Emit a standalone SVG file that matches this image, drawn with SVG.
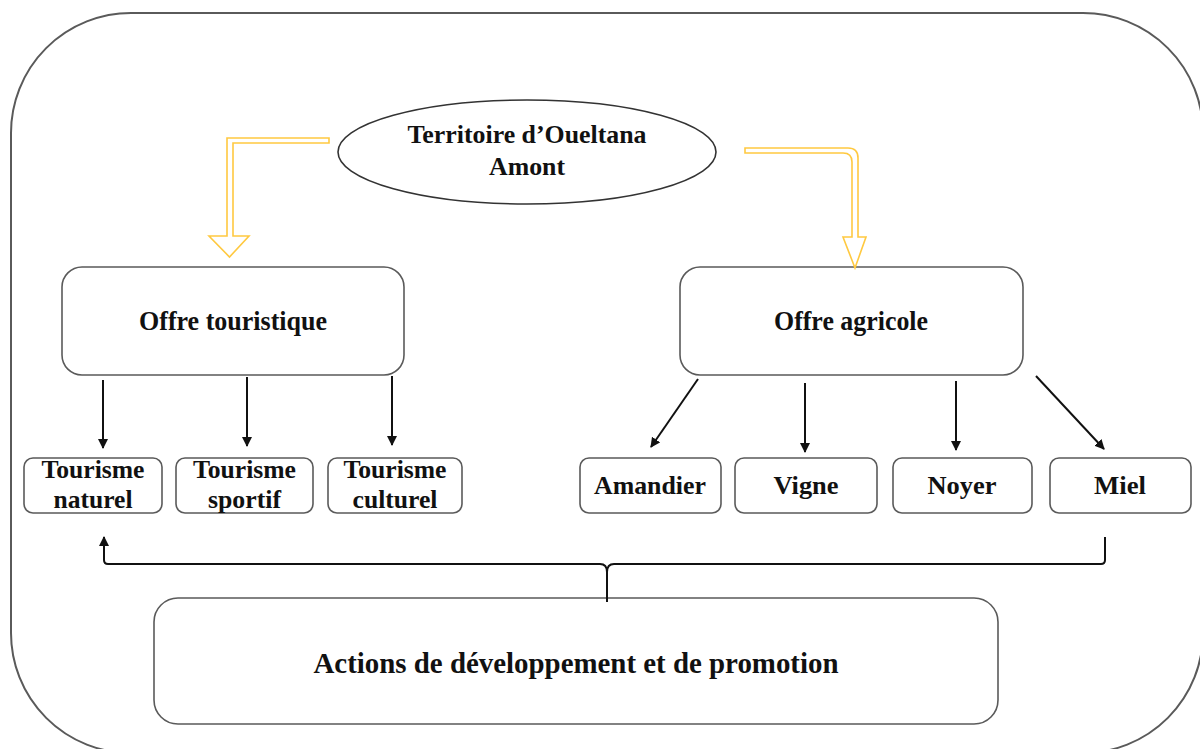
<svg xmlns="http://www.w3.org/2000/svg" width="1200" height="749" viewBox="0 0 1200 749">
<defs>
<style>
.frame{fill:none;stroke:#5a5a5a;stroke-width:2}
.box{fill:#fff;stroke:#5a5a5a;stroke-width:1.6}
.t{font-family:"Liberation Serif","Times New Roman",serif;font-weight:bold;fill:#111;text-anchor:middle}
.ln{fill:none;stroke:#111;stroke-width:2}
.ya{fill:#fff;stroke:#FFC940;stroke-width:1.6;stroke-linejoin:miter}
</style>
<marker id="ah" viewBox="0 0 10 10" refX="9" refY="5" markerWidth="5" markerHeight="5" orient="auto" markerUnits="strokeWidth">
<path d="M0,0 L10,5 L0,10 Z" fill="#111"/>
</marker>
</defs>
<rect width="1200" height="749" fill="#fff"/>
<rect class="frame" x="11" y="13" width="1192" height="740" rx="120" ry="120"/>

<g id="territoire">
<ellipse cx="527" cy="152" rx="189" ry="52" fill="#fff" stroke="#333" stroke-width="1.6"/>
<text class="t" x="527" y="143" font-size="26" textLength="239" lengthAdjust="spacingAndGlyphs">Territoire d’Oueltana</text>
<text class="t" x="527" y="175" font-size="26" textLength="76" lengthAdjust="spacingAndGlyphs">Amont</text>
</g>

<g id="offre-touristique">
<rect class="box" x="62" y="267" width="342" height="108" rx="20"/>
<text class="t" x="233" y="330" font-size="27" textLength="188" lengthAdjust="spacingAndGlyphs">Offre touristique</text>
</g>
<g id="offre-agricole">
<rect class="box" x="680" y="267" width="343" height="108" rx="20"/>
<text class="t" x="851" y="330" font-size="27" textLength="154" lengthAdjust="spacingAndGlyphs">Offre agricole</text>
</g>

<g id="tourisme-naturel">
<rect class="box" x="24" y="458" width="138" height="55" rx="9"/>
<text class="t" x="93" y="478" font-size="26" textLength="103" lengthAdjust="spacingAndGlyphs">Tourisme</text>
<text class="t" x="93" y="508" font-size="26" textLength="79" lengthAdjust="spacingAndGlyphs">naturel</text>
</g>
<g id="tourisme-sportif">
<rect class="box" x="176" y="458" width="137" height="55" rx="9"/>
<text class="t" x="244.5" y="478" font-size="26" textLength="103" lengthAdjust="spacingAndGlyphs">Tourisme</text>
<text class="t" x="244.5" y="508" font-size="26" textLength="73" lengthAdjust="spacingAndGlyphs">sportif</text>
</g>
<g id="tourisme-culturel">
<rect class="box" x="328" y="458" width="134" height="55" rx="9"/>
<text class="t" x="395" y="478" font-size="26" textLength="103" lengthAdjust="spacingAndGlyphs">Tourisme</text>
<text class="t" x="395" y="508" font-size="26" textLength="85" lengthAdjust="spacingAndGlyphs">culturel</text>
</g>

<g id="amandier">
<rect class="box" x="580" y="458" width="141" height="55" rx="9"/>
<text class="t" x="650" y="494" font-size="26" textLength="112" lengthAdjust="spacingAndGlyphs">Amandier</text>
</g>
<g id="vigne">
<rect class="box" x="735" y="458" width="142" height="55" rx="9"/>
<text class="t" x="806" y="494" font-size="26" textLength="65" lengthAdjust="spacingAndGlyphs">Vigne</text>
</g>
<g id="noyer">
<rect class="box" x="893" y="458" width="139" height="55" rx="9"/>
<text class="t" x="962" y="494" font-size="26" textLength="69" lengthAdjust="spacingAndGlyphs">Noyer</text>
</g>
<g id="miel">
<rect class="box" x="1050" y="458" width="141" height="55" rx="9"/>
<text class="t" x="1120" y="494" font-size="26" textLength="52" lengthAdjust="spacingAndGlyphs">Miel</text>
</g>

<g id="actions">
<rect class="box" x="154" y="598" width="844" height="126" rx="24"/>
<text class="t" x="576" y="673" font-size="30" textLength="525" lengthAdjust="spacingAndGlyphs">Actions de développement et de promotion</text>
</g>

<g id="connectors">
<path class="ya" d="M329,138 L227,138 L227,236 L209,236 L229.5,257 L249,236 L233,236 L233,143 L329,143 Z"/>
<path class="ya" d="M745,148 L848,148 Q858,148 858,158 L858,237 L866,237 L855,268 L843,237 L852,237 L852,162 Q852,153 843,153 L745,153 Z"/>

<line class="ln" x1="103" y1="380" x2="103" y2="448" marker-end="url(#ah)"/>
<line class="ln" x1="247" y1="377" x2="247" y2="446" marker-end="url(#ah)"/>
<line class="ln" x1="392" y1="376" x2="392" y2="445" marker-end="url(#ah)"/>

<line class="ln" x1="698" y1="379" x2="651" y2="447" marker-end="url(#ah)"/>
<line class="ln" x1="805" y1="383" x2="805" y2="452" marker-end="url(#ah)"/>
<line class="ln" x1="956" y1="381" x2="956" y2="450" marker-end="url(#ah)"/>
<line class="ln" x1="1036" y1="376" x2="1104" y2="449" marker-end="url(#ah)"/>

<path class="ln" d="M1105,537 L1105,560 Q1105,564 1101,564 L614,564 Q607,564 607,572 L607,602 M607,572 Q607,564 600,564 L108,564 Q104,564 104,560 L104,537" marker-end="url(#ah)"/>
</g>
</svg>
